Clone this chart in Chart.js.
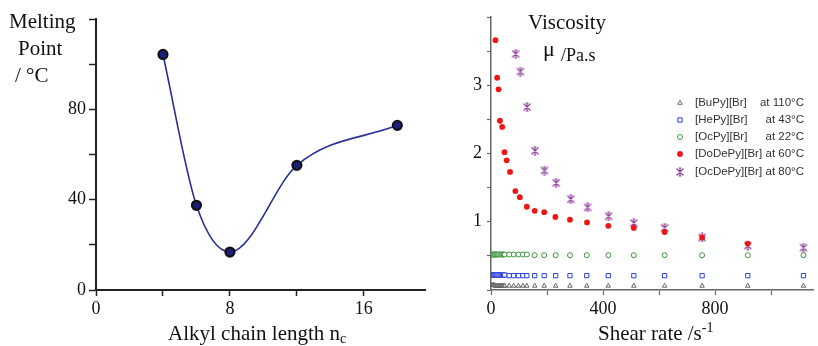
<!DOCTYPE html>
<html>
<head>
<meta charset="utf-8">
<script src="https://cdn.jsdelivr.net/npm/chart.js@4.4.1/dist/chart.umd.min.js"></script>
<style>
  html, body { margin: 0; padding: 0; background: #fff; }
  #wrap { position: relative; width: 818px; height: 346px; overflow: hidden; }
  .box { position: absolute; top: 0; height: 346px; }
</style>
</head>
<body>
<div id="wrap">
  <div class="box" style="left:0;width:432px"><canvas id="left"></canvas></div>
  <div class="box" style="left:432px;width:386px"><canvas id="right"></canvas></div>
</div>
<script>
// left: melting point vs chain length
const chainLength = [4, 6, 8, 12, 18];
const meltingPoint = [104.3, 37.5, 16.8, 55.2, 72.9];

// right: viscosity vs shear rate
const shearLow = [3, 6, 9, 12, 15, 18, 21, 25, 29, 33, 37, 41, 45, 49, 65, 81, 98, 114, 128, 156, 190, 231, 282, 342, 419, 510, 620, 754, 917, 1116];
const buPy = [0.07, 0.07, 0.07, 0.07, 0.06, 0.06, 0.06, 0.06, 0.06, 0.06, 0.06, 0.06, 0.06, 0.06, 0.06, 0.06, 0.06, 0.06, 0.06, 0.06, 0.06, 0.06, 0.06, 0.06, 0.06, 0.06, 0.06, 0.06, 0.06, 0.06];
const hePy = [0.22, 0.22, 0.22, 0.22, 0.22, 0.22, 0.22, 0.22, 0.22, 0.22, 0.22, 0.22, 0.22, 0.22, 0.21, 0.21, 0.21, 0.21, 0.21, 0.21, 0.21, 0.21, 0.21, 0.21, 0.21, 0.21, 0.21, 0.21, 0.21, 0.21];
const ocPy = [0.52, 0.52, 0.52, 0.52, 0.52, 0.52, 0.52, 0.52, 0.52, 0.52, 0.52, 0.52, 0.52, 0.52, 0.52, 0.52, 0.52, 0.52, 0.52, 0.51, 0.51, 0.51, 0.51, 0.51, 0.51, 0.51, 0.51, 0.51, 0.51, 0.51];
const shearDoDe = [16, 22, 27, 32, 40, 48, 56, 68, 87, 103, 128, 156, 190, 230, 282, 343, 419, 510, 620, 754, 917];
const doDePy = [3.66, 3.11, 2.94, 2.48, 2.39, 2.02, 1.90, 1.73, 1.45, 1.36, 1.22, 1.16, 1.14, 1.07, 1.03, 0.99, 0.94, 0.91, 0.85, 0.77, 0.68];
const shearOcDe = [88, 105, 129, 157, 191, 233, 285, 345, 420, 510, 620, 754, 917, 1116];
const ocDePy = [3.46, 3.20, 2.68, 2.04, 1.75, 1.57, 1.33, 1.21, 1.08, 0.98, 0.91, 0.77, 0.65, 0.62];

const legendNames = ['[BuPy][Br]', '[HePy][Br]', '[OcPy][Br]', '[DoDePy][Br]', '[OcDePy][Br]'];
const legendTemps = ['at 110°C', 'at 43°C', 'at 22°C', 'at 60°C', 'at 80°C'];

const serif = '"Liberation Serif", "Times New Roman", serif';
const pts = (xs, ys) => xs.map((x, i) => ({ x: x, y: ys[i] }));

// purple asterisk-like marker: X with a centre bar and short caps
const star = document.createElement('canvas');
star.width = 10; star.height = 10;
(function () {
  const c = star.getContext('2d');
  c.strokeStyle = '#8a3a98';
  c.lineWidth = 1.1;
  c.beginPath();
  c.moveTo(1.5, 1.5); c.lineTo(8.5, 8.5);
  c.moveTo(8.5, 1.5); c.lineTo(1.5, 8.5);
  c.moveTo(5, 1); c.lineTo(5, 9);
  c.moveTo(3.6, 1); c.lineTo(6.4, 1);
  c.moveTo(3.6, 9); c.lineTo(6.4, 9);
  c.stroke();
})();

function textRuns(runs) {
  return {
    id: 'texts',
    afterDraw(chart) {
      const ctx = chart.ctx;
      ctx.save();
      ctx.fillStyle = '#111';
      ctx.textBaseline = 'alphabetic';
      runs.forEach(r => {
        let x = r.x;
        r.parts.forEach(p => {
          ctx.font = p.size + 'px ' + serif;
          ctx.fillText(p.t, x, r.y + (p.dy || 0));
          x += ctx.measureText(p.t).width;
        });
      });
      ctx.restore();
    }
  };
}

// left chart
new Chart(document.getElementById('left'), {
  type: 'scatter',
  data: {
    datasets: [{
      data: pts(chainLength, meltingPoint),
      showLine: true,
      cubicInterpolationMode: 'monotone',
      borderColor: '#2b2f96',
      borderWidth: 1.6,
      pointRadius: 4.5,
      pointBorderWidth: 2.2,
      pointBorderColor: '#111',
      pointBackgroundColor: '#1c1f7a'
    }]
  },
  options: {
    responsive: true,
    maintainAspectRatio: false,
    animation: false,
    layout: { padding: { top: 19, right: 4, left: 0, bottom: 0 } },
    plugins: { legend: { display: false }, tooltip: { enabled: false } },
    scales: {
      x: {
        type: 'linear', min: 0, max: 19.67,
        afterBuildTicks: s => { s.ticks = [0, 4, 8, 12, 16].map(v => ({ value: v })); },
        afterFit: s => { s.height = 56; },
        grid: { drawOnChartArea: false, tickLength: 6, color: '#222', tickWidth: 1.5 },
        border: { color: '#222', width: 2 },
        ticks: {
          padding: 2, color: '#111', font: { family: serif, size: 18 },
          maxRotation: 0, autoSkip: false,
          callback: v => (v % 8 === 0 ? v : '')
        }
      },
      y: {
        type: 'linear', min: 0, max: 120,
        afterBuildTicks: s => { s.ticks = [0, 20, 40, 60, 80, 100, 120].map(v => ({ value: v })); },
        afterFit: s => { s.width = 96; },
        grid: { drawOnChartArea: false, tickLength: 7, color: '#222', tickWidth: 1.5 },
        border: { color: '#222', width: 2 },
        ticks: {
          padding: 3, color: '#111', font: { family: serif, size: 18 },
          autoSkip: false,
          callback: v => (v % 40 === 0 && v < 120 ? v : '')
        }
      }
    }
  },
  plugins: [textRuns([
    { x: 9, y: 28, parts: [{ t: 'Melting', size: 21 }] },
    { x: 18, y: 55, parts: [{ t: 'Point', size: 21 }] },
    { x: 15, y: 82, parts: [{ t: '/ °C', size: 21 }] },
    { x: 168, y: 340, parts: [{ t: 'Alkyl chain length n', size: 21 }, { t: 'c', size: 14, dy: 3 }] }
  ])]
});

// right chart
const rightSets = [
  { data: pts(shearLow, buPy), pointStyle: 'triangle', pointRadius: 2.6, pointBorderWidth: 0.9, pointBorderColor: '#555', pointBackgroundColor: 'rgba(255,255,255,0.6)' },
  { data: pts(shearLow, hePy), pointStyle: 'rect', pointRadius: 3, pointBorderWidth: 1, pointBorderColor: '#2b3fe6', pointBackgroundColor: '#fff' },
  { data: pts(shearLow, ocPy), pointStyle: 'circle', pointRadius: 2.5, pointBorderWidth: 1, pointBorderColor: '#3b943b', pointBackgroundColor: '#fff' },
  { data: pts(shearDoDe, doDePy), pointStyle: 'circle', pointRadius: 2.9, pointBorderWidth: 0, pointBorderColor: '#f01515', pointBackgroundColor: '#f01515' },
  { data: pts(shearOcDe, ocDePy), pointStyle: star, pointRadius: 4, pointBorderWidth: 0, pointBorderColor: '#8a3a98', pointBackgroundColor: '#8a3a98' }
];

const insideLegend = {
  id: 'insideLegend',
  afterDraw(chart) {
    const ctx = chart.ctx;
    const rows = [103, 120, 137, 154, 172];
    ctx.save();
    rightSets.forEach((d, i) => {
      const y = rows[i];
      ctx.strokeStyle = d.pointBorderColor;
      ctx.fillStyle = d.pointBackgroundColor;
      ctx.lineWidth = d.pointBorderWidth;
      Chart.helpers.drawPoint(ctx, {
        pointStyle: d.pointStyle, radius: d.pointRadius, rotation: 0, borderWidth: d.pointBorderWidth
      }, 248, y);
      ctx.fillStyle = '#333';
      ctx.font = '11.5px "Liberation Sans", Arial, sans-serif';
      ctx.textBaseline = 'middle';
      ctx.textAlign = 'left';
      ctx.fillText(legendNames[i], 263, y);
      ctx.textAlign = 'right';
      ctx.fillText(legendTemps[i], 372, y);
    });
    ctx.restore();
  }
};

new Chart(document.getElementById('right'), {
  type: 'scatter',
  data: { datasets: rightSets },
  options: {
    responsive: true,
    maintainAspectRatio: false,
    animation: false,
    layout: { padding: { top: 17, right: 1, left: 0, bottom: 0 } },
    plugins: { legend: { display: false }, tooltip: { enabled: false } },
    scales: {
      x: {
        type: 'linear', min: 0, max: 1150,
        afterBuildTicks: s => { s.ticks = [0, 200, 400, 600, 800, 1000].map(v => ({ value: v })); },
        afterFit: s => { s.height = 56; },
        grid: { drawOnChartArea: false, tickLength: 5, color: '#666', tickWidth: 1.2 },
        border: { color: '#666', width: 1.5 },
        ticks: {
          padding: 3, color: '#111', font: { family: serif, size: 18 },
          maxRotation: 0, autoSkip: false,
          callback: v => (v % 400 === 0 ? v : '')
        }
      },
      y: {
        type: 'linear', min: 0, max: 4,
        afterBuildTicks: s => { s.ticks = [0, 0.5, 1, 1.5, 2, 2.5, 3, 3.5, 4].map(v => ({ value: v })); },
        afterFit: s => { s.width = 59; },
        grid: { drawOnChartArea: false, tickLength: 4, color: '#666', tickWidth: 1.2 },
        border: { color: '#666', width: 1.5 },
        ticks: {
          padding: 5, color: '#111', font: { family: serif, size: 18 },
          autoSkip: false,
          callback: v => ([1, 2, 3].includes(v) ? v : '')
        }
      }
    }
  },
  plugins: [insideLegend, textRuns([
    { x: 96, y: 28.5, parts: [{ t: 'Viscosity', size: 21 }] },
    { x: 111, y: 56, parts: [{ t: 'μ', size: 22 }] },
    { x: 129, y: 61, parts: [{ t: '/Pa.s', size: 18 }] },
    { x: 166, y: 340, parts: [{ t: 'Shear rate /s', size: 21 }, { t: '-1', size: 14, dy: -8 }] }
  ])]
});
</script>
</body>
</html>
